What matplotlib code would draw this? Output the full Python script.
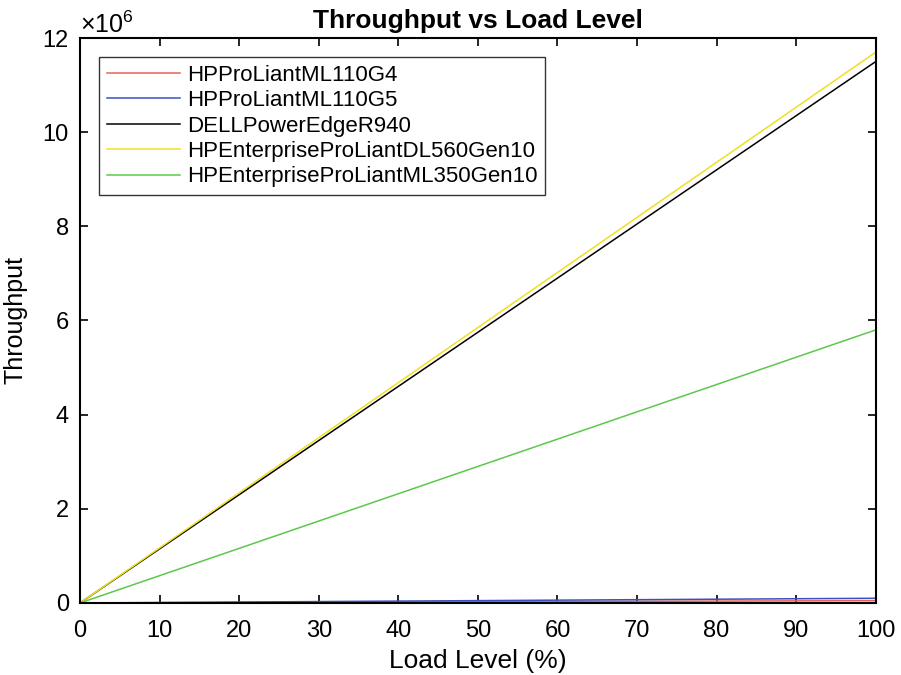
import matplotlib
matplotlib.use("Agg")
import matplotlib.pyplot as plt
from matplotlib.ticker import MultipleLocator, FuncFormatter

plt.rcParams['font.family'] = ['Liberation Sans', 'DejaVu Sans']
plt.rcParams['mathtext.fontset'] = 'custom'
plt.rcParams['mathtext.rm'] = 'Liberation Sans'

load = [0, 10, 20, 30, 40, 50, 60, 70, 80, 90, 100]
g4 = [0, 5e3, 1e4, 1.5e4, 2e4, 2.5e4, 3e4, 3.5e4, 4e4, 4.5e4, 5e4]
g5 = [0, 1e4, 2e4, 3e4, 4e4, 5e4, 6e4, 7e4, 8e4, 9e4, 1e5]
dell = [0, 1.15e6, 2.3e6, 3.45e6, 4.6e6, 5.75e6, 6.9e6, 8.05e6, 9.2e6, 10.35e6, 11.5e6]
dl560 = [0, 1.17e6, 2.34e6, 3.51e6, 4.68e6, 5.85e6, 7.02e6, 8.19e6, 9.36e6, 10.53e6, 11.7e6]
ml350 = [0, 0.58e6, 1.16e6, 1.74e6, 2.32e6, 2.9e6, 3.48e6, 4.06e6, 4.64e6, 5.22e6, 5.8e6]

names = ['HPProLiantML110G4', 'HPProLiantML110G5', 'DELLPowerEdgeR940',
         'HPEnterpriseProLiantDL560Gen10', 'HPEnterpriseProLiantML350Gen10']
colors = ['#e8605a', '#3a50c0', '#000000', '#f0e020', '#5cc84c']

fig = plt.figure(figsize=(9.01, 6.75), dpi=100)
ax = fig.add_axes([0.0888, 0.1067, 0.8832, 0.837])

for y, name, c in zip([g4, g5, dell, dl560, ml350], names, colors):
    ax.plot(load, y, color=c, lw=1.1, label=name)

ax.set_xlim(0, 100)
ax.set_ylim(0, 12e6)
ax.xaxis.set_major_locator(MultipleLocator(10))
ax.yaxis.set_major_locator(MultipleLocator(2e6))
ax.yaxis.set_major_formatter(FuncFormatter(lambda v, p: '%g' % (v / 1e6)))
ax.tick_params(direction='in', top=True, right=True, labelsize=17, length=6,
               width=1.2, pad=8)
ax.tick_params(axis='x', pad=12)
for s in ax.spines.values():
    s.set_linewidth(1.5)

ax.text(0.0, 1.009, r'$\times10^{6}$', transform=ax.transAxes, fontsize=18,
        ha='left', va='baseline')
ax.set_title('Throughput vs Load Level', fontsize=19, fontweight='bold', pad=7)
ax.set_xlabel('Load Level (%)', fontsize=19, labelpad=5)
ax.set_ylabel('Throughput', fontsize=18, labelpad=11)

leg = ax.legend(loc='upper left', fontsize=16, handlelength=3.3, handletextpad=0.3,
                labelspacing=0.2, borderpad=0.35, borderaxespad=0.85,
                fancybox=False, edgecolor='#333333', framealpha=1)
leg.get_frame().set_linewidth(1.0)

fig.savefig('out.png', dpi=100)
